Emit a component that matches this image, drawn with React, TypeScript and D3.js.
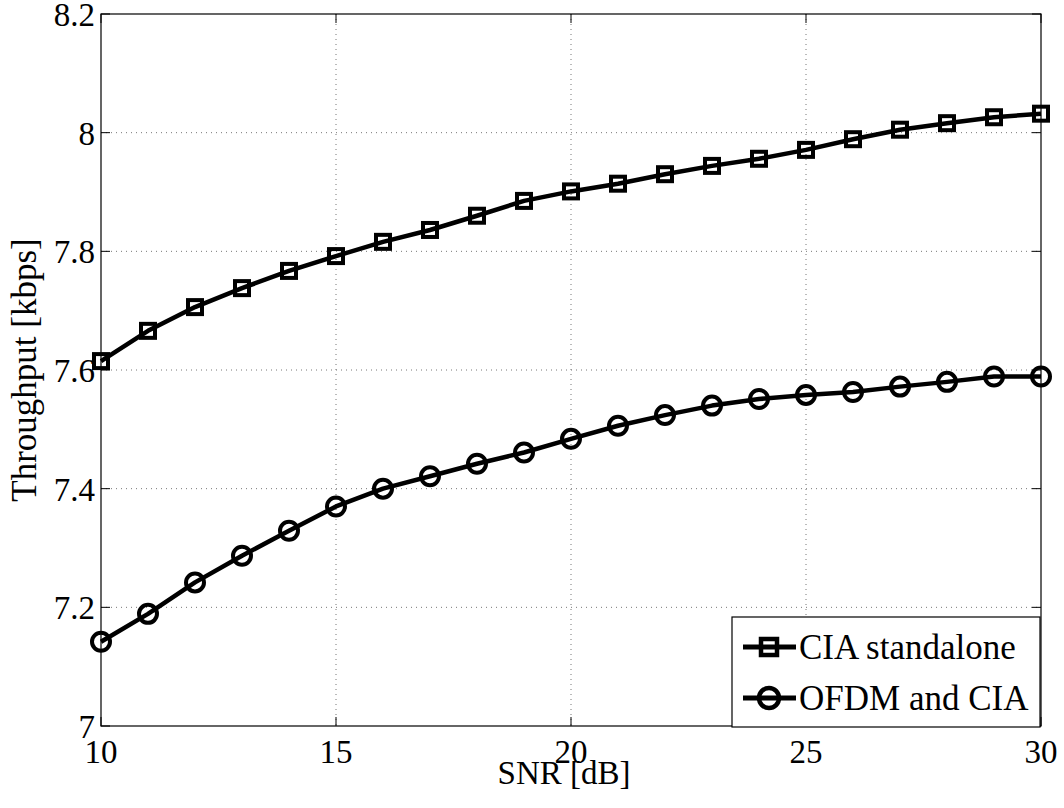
import React from "react";
import * as d3 from "d3";

const snr = [10, 11, 12, 13, 14, 15, 16, 17, 18, 19, 20, 21, 22, 23, 24, 25, 26, 27, 28, 29, 30];
const ciaStandalone = [7.615, 7.666, 7.706, 7.738, 7.767, 7.792, 7.816, 7.836, 7.860, 7.885, 7.901, 7.914, 7.930, 7.944, 7.956, 7.971, 7.989, 8.005, 8.016, 8.026, 8.032];
const ofdmCia = [7.142, 7.189, 7.242, 7.287, 7.329, 7.370, 7.400, 7.421, 7.442, 7.461, 7.484, 7.506, 7.524, 7.540, 7.551, 7.558, 7.563, 7.572, 7.580, 7.589, 7.589];
const xTicks = [10, 15, 20, 25, 30];
const yTicks = [7, 7.2, 7.4, 7.6, 7.8, 8, 8.2];
const seriesNames = ["CIA standalone", "OFDM and CIA"];
const xLabel = "SNR [dB]";
const yLabel = "Throughput [kbps]";

const W = 1064, H = 808;
const L = 101, R = 1041, T = 14, B = 726;
const FONT = "'Liberation Serif', 'Times New Roman', serif";

export default function App() {
  const x = d3.scaleLinear().domain([10, 30]).range([L, R]);
  const y = d3.scaleLinear().domain([7, 8.2]).range([B, T]);
  const line = d3.line<number>().x((_, i) => x(snr[i])).y((d) => y(d));
  const tick = 9;

  const square = (cx: number, cy: number, s: number, key: string, sw: number) => (
    <rect key={key} x={cx - s} y={cy - s} width={2 * s} height={2 * s} fill="none" stroke="#000" strokeWidth={sw} />
  );
  const circle = (cx: number, cy: number, r: number, key: string, sw: number) => (
    <circle key={key} cx={cx} cy={cy} r={r} fill="none" stroke="#000" strokeWidth={sw} />
  );

  const legL = 732, legT = 617, legR = 1040, legB = 727;
  const row1 = 647, row2 = 698;

  return (
    <svg width={W} height={H} style={{ position: "absolute", left: 0, top: 0, background: "#fff" }} fontFamily={FONT}>
      <rect x={0} y={0} width={W} height={H} fill="#fff" />
      {/* grid */}
      {xTicks.filter((t) => t !== 10 && t !== 30).map((t) => (
        <line key={"gx" + t} x1={x(t)} x2={x(t)} y1={T} y2={B} stroke="#777" strokeWidth={1} strokeDasharray="1,4" />
      ))}
      {yTicks.filter((t) => t !== 7 && t !== 8.2).map((t) => (
        <line key={"gy" + t} x1={L} x2={R} y1={y(t)} y2={y(t)} stroke="#777" strokeWidth={1} strokeDasharray="1,4" />
      ))}
      {/* axes box */}
      <rect x={L} y={T} width={R - L} height={B - T} fill="none" stroke="#000" strokeWidth={1.2} />
      {/* ticks */}
      {xTicks.map((t) => (
        <g key={"tx" + t}>
          <line x1={x(t)} x2={x(t)} y1={B} y2={B - tick} stroke="#000" strokeWidth={1} />
          <line x1={x(t)} x2={x(t)} y1={T} y2={T + tick} stroke="#000" strokeWidth={1} />
          <text x={x(t)} y={B + 37} fontSize={33} textAnchor="middle">{t}</text>
        </g>
      ))}
      {yTicks.map((t) => (
        <g key={"ty" + t}>
          <line x1={L} x2={L + tick} y1={y(t)} y2={y(t)} stroke="#000" strokeWidth={1} />
          <line x1={R} x2={R - tick} y1={y(t)} y2={y(t)} stroke="#000" strokeWidth={1} />
          <text x={L - 6} y={y(t) + 12} fontSize={33} textAnchor="end">{String(t)}</text>
        </g>
      ))}
      {/* labels */}
      <text x={564} y={784} fontSize={33} textAnchor="middle">{xLabel}</text>
      <text transform={`translate(36, ${(T + B) / 2}) rotate(-90)`} fontSize={35} textAnchor="middle">{yLabel}</text>
      {/* series */}
      <path d={line(ciaStandalone) || ""} fill="none" stroke="#000" strokeWidth={4.5} strokeLinejoin="round" />
      <path d={line(ofdmCia) || ""} fill="none" stroke="#000" strokeWidth={4.5} strokeLinejoin="round" />
      {ciaStandalone.map((v, i) => square(x(snr[i]), y(v), 7, "s" + i, 4))}
      {ofdmCia.map((v, i) => circle(x(snr[i]), y(v), 9, "c" + i, 4))}
      {/* legend */}
      <rect x={legL} y={legT} width={legR - legL} height={legB - legT} fill="#fff" stroke="#000" strokeWidth={1.2} />
      <line x1={743} x2={796} y1={row1} y2={row1} stroke="#000" strokeWidth={5} />
      {square(769, row1, 8, "ls", 4.5)}
      <text x={799} y={row1 + 12} fontSize={35}>{seriesNames[0]}</text>
      <line x1={743} x2={796} y1={row2} y2={row2} stroke="#000" strokeWidth={5} />
      {circle(769, row2, 10, "lc", 4.5)}
      <text x={799} y={row2 + 12} fontSize={35}>{seriesNames[1]}</text>
    </svg>
  );
}
